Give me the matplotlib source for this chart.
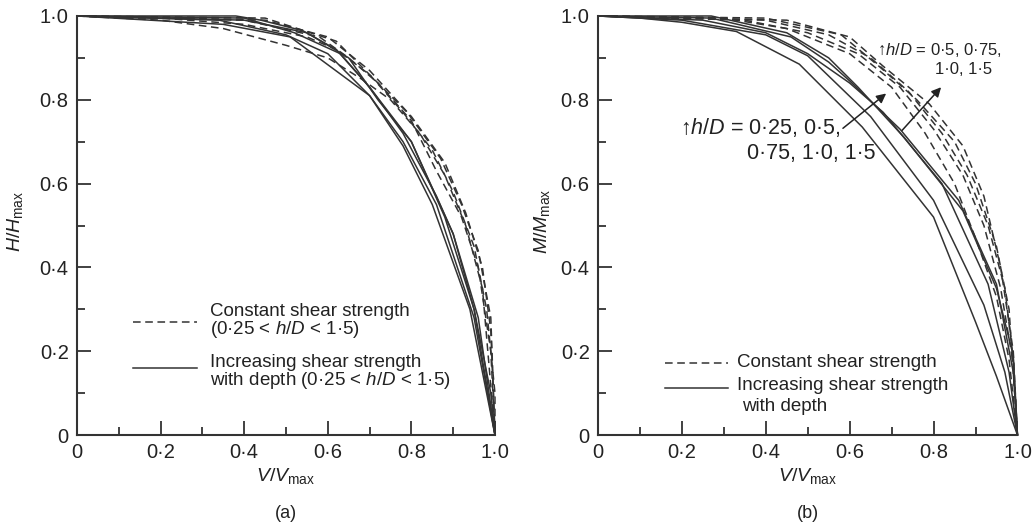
import matplotlib
matplotlib.use("Agg")
import matplotlib.pyplot as plt
from matplotlib.ticker import MultipleLocator, FuncFormatter

plt.rcParams['font.family'] = ['Liberation Sans', 'DejaVu Sans']
plt.rcParams['mathtext.fontset'] = 'custom'
plt.rcParams['mathtext.rm'] = 'Liberation Sans'
plt.rcParams['mathtext.it'] = 'Liberation Sans:italic'

# (a) H/Hmax vs V/Vmax -- constant shear strength (dashed)
a_const_v = [
    [0, 0.2, 0.35, 0.5, 0.6, 0.68, 0.75, 0.82, 0.88, 0.93, 0.97, 1.0],
    [0, 0.2, 0.4, 0.55, 0.62, 0.7, 0.78, 0.85, 0.9, 0.95, 0.98, 1.0, 1.0],
    [0, 0.45, 0.6, 0.7, 0.8, 0.88, 0.93, 0.97, 0.99, 1.0],
    [0, 0.45, 0.62, 0.7, 0.79, 0.87, 0.92, 0.96, 0.99, 1.0],
    [0, 0.4, 0.58, 0.65, 0.72, 0.8, 0.86, 0.92, 0.96, 0.99, 1.0],
]
a_const_h = [
    [1, 0.99, 0.97, 0.93, 0.9, 0.85, 0.8, 0.72, 0.62, 0.5, 0.35, 0.0],
    [1, 0.995, 0.98, 0.95, 0.92, 0.86, 0.77, 0.68, 0.58, 0.45, 0.3, 0.1, 0.0],
    [1, 0.99, 0.95, 0.87, 0.76, 0.65, 0.53, 0.4, 0.25, 0.0],
    [1, 0.995, 0.94, 0.86, 0.77, 0.66, 0.55, 0.44, 0.28, 0.0],
    [1, 0.99, 0.95, 0.9, 0.84, 0.75, 0.63, 0.52, 0.4, 0.2, 0.0],
]
# (a) increasing shear strength with depth (solid)
a_incr_v = [
    [0, 0.38, 0.44, 0.54, 0.62, 0.7, 0.78, 0.86, 0.9, 0.95, 0.99, 1.0],
    [0, 0.34, 0.5, 0.6, 0.7, 0.78, 0.86, 0.95, 1.0],
    [0, 0.35, 0.51, 0.7, 0.78, 0.85, 0.94, 1.0],
    [0, 0.4, 0.55, 0.65, 0.72, 0.8, 0.88, 0.95, 1.0],
    [0, 0.4, 0.52, 0.63, 0.7, 0.8, 0.9, 0.96, 1.0],
]
a_incr_h = [
    [1, 1.0, 0.99, 0.965, 0.92, 0.83, 0.72, 0.57, 0.48, 0.3, 0.1, 0.0],
    [1, 0.99, 0.955, 0.91, 0.81, 0.7, 0.55, 0.28, 0.0],
    [1, 0.98, 0.95, 0.81, 0.69, 0.55, 0.3, 0.0],
    [1, 0.99, 0.96, 0.9, 0.8, 0.7, 0.52, 0.3, 0.0],
    [1, 0.995, 0.96, 0.91, 0.83, 0.7, 0.48, 0.28, 0.0],
]

# (b) M/Mmax vs V/Vmax -- constant shear strength (dashed)
b_const_v = [
    [0, 0.3, 0.45, 0.6, 0.7, 0.78, 0.85, 0.9, 0.95, 0.98, 1.0],
    [0, 0.35, 0.5, 0.62, 0.72, 0.8, 0.87, 0.92, 0.96, 0.99, 1.0],
    [0, 0.4, 0.55, 0.65, 0.74, 0.82, 0.88, 0.93, 0.97, 0.99, 1.0],
    [0, 0.4, 0.58, 0.67, 0.76, 0.85, 0.9, 0.95, 0.98, 1.0],
    [0, 0.45, 0.6, 0.68, 0.79, 0.87, 0.92, 0.96, 0.99, 1.0],
]
b_const_m = [
    [1, 0.995, 0.97, 0.91, 0.83, 0.72, 0.6, 0.47, 0.33, 0.18, 0.0],
    [1, 0.99, 0.96, 0.91, 0.83, 0.73, 0.62, 0.5, 0.35, 0.17, 0.0],
    [1, 0.99, 0.955, 0.9, 0.82, 0.72, 0.62, 0.5, 0.35, 0.18, 0.0],
    [1, 0.995, 0.955, 0.88, 0.8, 0.7, 0.6, 0.45, 0.3, 0.0],
    [1, 0.99, 0.95, 0.88, 0.79, 0.69, 0.57, 0.4, 0.2, 0.0],
]
# (b) increasing shear strength with depth (solid)
b_incr_v = [
    [0, 0.1, 0.2, 0.33, 0.48, 0.63, 0.8, 0.9, 0.95, 1.0],
    [0, 0.2, 0.4, 0.5, 0.65, 0.8, 0.92, 0.97, 1.0],
    [0, 0.25, 0.4, 0.5, 0.6, 0.68, 0.82, 0.93, 0.98, 1.0],
    [0, 0.27, 0.46, 0.55, 0.6, 0.72, 0.86, 0.95, 0.99, 1.0],
    [0, 0.27, 0.45, 0.55, 0.62, 0.73, 0.87, 0.95, 0.99, 1.0],
]
b_incr_m = [
    [1, 0.995, 0.985, 0.963, 0.885, 0.735, 0.52, 0.27, 0.14, 0.0],
    [1, 0.99, 0.955, 0.905, 0.76, 0.56, 0.31, 0.15, 0.0],
    [1, 0.99, 0.96, 0.91, 0.84, 0.77, 0.6, 0.36, 0.15, 0.0],
    [1, 0.995, 0.95, 0.89, 0.845, 0.73, 0.56, 0.36, 0.15, 0.0],
    [1, 1.0, 0.96, 0.9, 0.83, 0.71, 0.535, 0.35, 0.19, 0.0],
]

ink = '#333333'
txt = '#222222'
tick_fmt = FuncFormatter(lambda v, p: '0' if abs(v) < 1e-9 else f'{v:.1f}'.replace('.', '\u00b7'))

fig = plt.figure(figsize=(10.34, 5.24), dpi=100)
ax_a = fig.add_axes([0.0745, 0.1698, 0.4042, 0.7997])
ax_b = fig.add_axes([0.5783, 0.1698, 0.4057, 0.7997])


def style_axes(ax):
    ax.set_xlim(0, 1)
    ax.set_ylim(0, 1)
    for s in ['top', 'right']:
        ax.spines[s].set_visible(False)
    for s in ['left', 'bottom']:
        ax.spines[s].set_linewidth(1.5)
        ax.spines[s].set_color(ink)
    ax.xaxis.set_major_locator(MultipleLocator(0.2))
    ax.yaxis.set_major_locator(MultipleLocator(0.2))
    ax.xaxis.set_minor_locator(MultipleLocator(0.1))
    ax.yaxis.set_minor_locator(MultipleLocator(0.1))
    ax.xaxis.set_major_formatter(tick_fmt)
    ax.yaxis.set_major_formatter(tick_fmt)
    ax.tick_params(which='major', direction='in', length=10, width=1.3, color=ink,
                   labelsize=14.5, labelcolor=txt, pad=6)
    ax.tick_params(which='minor', direction='in', length=5.5, width=1.3, color=ink)


for ax in (ax_a, ax_b):
    style_axes(ax)

for v, h in zip(a_const_v, a_const_h):
    ax_a.plot(v, h, color=ink, lw=1.1, dashes=(5, 3), clip_on=False)
for v, h in zip(a_incr_v, a_incr_h):
    ax_a.plot(v, h, color=ink, lw=1.1, clip_on=False)
for v, m in zip(b_const_v, b_const_m):
    ax_b.plot(v, m, color=ink, lw=1.1, dashes=(5, 3), clip_on=False)
for v, m in zip(b_incr_v, b_incr_m):
    ax_b.plot(v, m, color=ink, lw=1.1, clip_on=False)

# axis labels
ax_a.set_ylabel(r'$\mathit{H}/\mathit{H}_{\mathrm{max}}$', fontsize=14, color=txt)
ax_a.yaxis.set_label_coords(-0.125, 0.51)
ax_b.set_ylabel(r'$\mathit{M}/\mathit{M}_{\mathrm{max}}$', fontsize=14, color=txt)
ax_b.yaxis.set_label_coords(-0.11, 0.51)
for ax, tag in ((ax_a, '(a)'), (ax_b, '(b)')):
    ax.set_xlabel(r'$\mathit{V}/\mathit{V}_{\mathrm{max}}$', fontsize=14, color=txt)
    ax.xaxis.set_label_coords(0.5, -0.075)
    ax.text(0.5, -0.188, tag, transform=ax.transAxes, ha='center', va='center',
            fontsize=13, color=txt)

# legend (a)
ax_a.plot([0.134, 0.287], [0.27, 0.27], transform=ax_a.transAxes, color=ink,
          lw=1.1, dashes=(5, 3))
ax_a.plot([0.134, 0.287], [0.16, 0.16], transform=ax_a.transAxes, color=ink, lw=1.1)
leg_kw = dict(transform=ax_a.transAxes, ha='left', va='center', fontsize=13.5, color=txt)
ax_a.text(0.318, 0.294, 'Constant shear strength', **leg_kw)
ax_a.text(0.318, 0.252, r'(0·25 < $\mathit{h/D}$ < 1·5)', **leg_kw)
ax_a.text(0.318, 0.174, 'Increasing shear strength', **leg_kw)
ax_a.text(0.318, 0.131, r'with depth (0·25 < $\mathit{h/D}$ < 1·5)', **leg_kw)

# legend (b)
ax_b.plot([0.16, 0.31], [0.172, 0.172], transform=ax_b.transAxes, color=ink,
          lw=1.1, dashes=(5, 3))
ax_b.plot([0.16, 0.31], [0.112, 0.112], transform=ax_b.transAxes, color=ink, lw=1.1)
leg_kw = dict(transform=ax_b.transAxes, ha='left', va='center', fontsize=13.5, color=txt)
ax_b.text(0.331, 0.172, 'Constant shear strength', **leg_kw)
ax_b.text(0.331, 0.117, 'Increasing shear strength', **leg_kw)
ax_b.text(0.343, 0.067, 'with depth', **leg_kw)

# annotations (b)
arrow_kw = dict(arrowstyle='-|>', color=txt, lw=1.1, mutation_scale=14,
                shrinkA=0, shrinkB=0)
ax_b.annotate('', xy=(0.687, 0.815), xytext=(0.584, 0.732), arrowprops=arrow_kw)
ax_b.annotate('', xy=(0.818, 0.83), xytext=(0.725, 0.727), arrowprops=arrow_kw)
ax_b.text(0.195, 0.734, '\u2191' + r'$\mathit{h/D}$ = 0·25, 0·5,', ha='left', va='center',
          fontsize=15.5, color=txt)
ax_b.text(0.355, 0.672, '0·75, 1·0, 1·5', ha='left', va='center', fontsize=15.5, color=txt)
ax_b.text(0.665, 0.92, '\u2191' + r'$\mathit{h/D}$ = 0·5, 0·75,', ha='left', va='center',
          fontsize=12, color=txt)
ax_b.text(0.803, 0.872, '1·0, 1·5', ha='left', va='center', fontsize=12, color=txt)

fig.savefig('out.png', dpi=100)
